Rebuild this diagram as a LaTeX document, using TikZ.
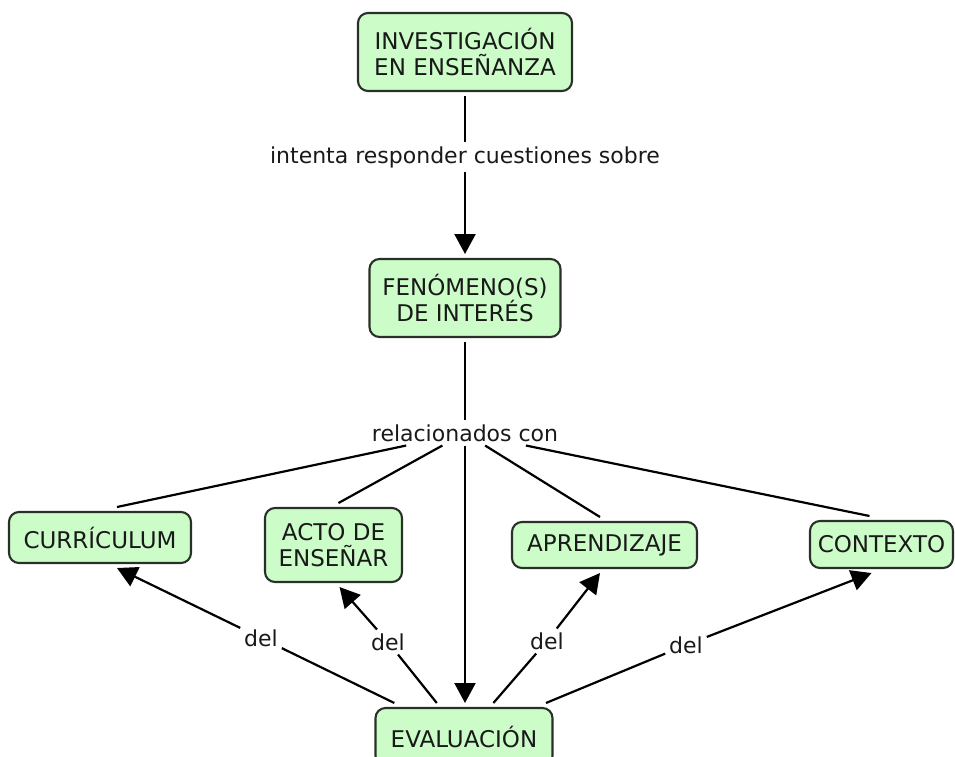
\documentclass[tikz,border=0pt]{standalone}
\usepackage{fontspec}
\setmainfont{DejaVu Sans}
\usetikzlibrary{arrows.meta,calc}
\definecolor{conceptfill}{RGB}{204,252,200}
\definecolor{conceptline}{RGB}{40,48,40}
\definecolor{txt}{RGB}{25,25,25}
\begin{document}
\begin{tikzpicture}[x=1pt,y=-1pt,
  concept/.style={draw=conceptline, line width=2.1pt, fill=conceptfill,
    rounded corners=10pt, align=center, inner sep=0pt, outer sep=5pt,
    font=\fontsize{23}{26}\selectfont, text=txt},
  linkp/.style={inner sep=2pt, outer sep=2pt,
    font=\fontsize{22}{26}\selectfont, text=txt},
  conn/.style={line width=2.2pt, draw=black},
  arr/.style={conn, -{Triangle[length=20pt,width=21pt]}}]
\useasboundingbox (0,0) rectangle (955,756);
\clip (0,0) rectangle (955,756);

% concepts
\node[concept, minimum width=214pt, minimum height=78pt] (inv) at (465,52) {INVESTIGACIÓN\\EN ENSEÑANZA};
\node[concept, minimum width=191pt, minimum height=78pt] (fen) at (465,298) {FENÓMENO(S)\\DE INTERÉS};
\node[concept, minimum width=182pt, minimum height=51pt] (cur) at (100,537.5) {CURRÍCULUM};
\node[concept, minimum width=137pt, minimum height=74pt] (acto) at (333.5,545) {ACTO DE\\ENSEÑAR};
\node[concept, minimum width=185pt, minimum height=46pt] (apr) at (604.5,545) {APRENDIZAJE};
\node[concept, minimum width=143pt, minimum height=47pt] (ctx) at (881.5,544.5) {CONTEXTO};
\node[concept, minimum width=177pt, minimum height=58pt] (eva) at (464,737) {EVALUACIÓN};

% linking phrases
\node[linkp] (l1) at (465,157) {intenta responder cuestiones sobre};
\node[linkp] (l2) at (465,433) {relacionados con};
\node[linkp] (d1) at (261,638) {del};
\node[linkp] (d2) at (388,642) {del};
\node[linkp] (d3) at (547,641) {del};
\node[linkp] (d4) at (686,645) {del};

% connectors
\draw[conn] (inv) -- (l1);
\draw[arr] (l1) -- (fen);
\draw[conn] (fen) -- (l2);
\draw[conn] (l2) -- ([xshift=17pt]cur.north);
\draw[conn] (l2) -- ([xshift=5pt]acto.north);
\draw[conn] (l2) -- ([xshift=-4.5pt]apr.north);
\draw[conn] (l2) -- ([xshift=-12pt]ctx.north);
\draw[arr] (l2) -- (l2 |- eva.north);

\draw[conn] (eva) -- (d1);
\draw[conn] (eva) -- (d2);
\draw[conn] (eva) -- (d3);
\draw[conn] (eva) -- (d4);
\draw[arr] (d1) -- ([xshift=17pt]cur.south);
\draw[arr] (d2) -- ([xshift=6pt]acto.south);
\draw[arr] (d3) -- ([xshift=-4.5pt]apr.south);
\draw[arr] (d4) -- ([xshift=-10pt]ctx.south);
\end{tikzpicture}
\end{document}
